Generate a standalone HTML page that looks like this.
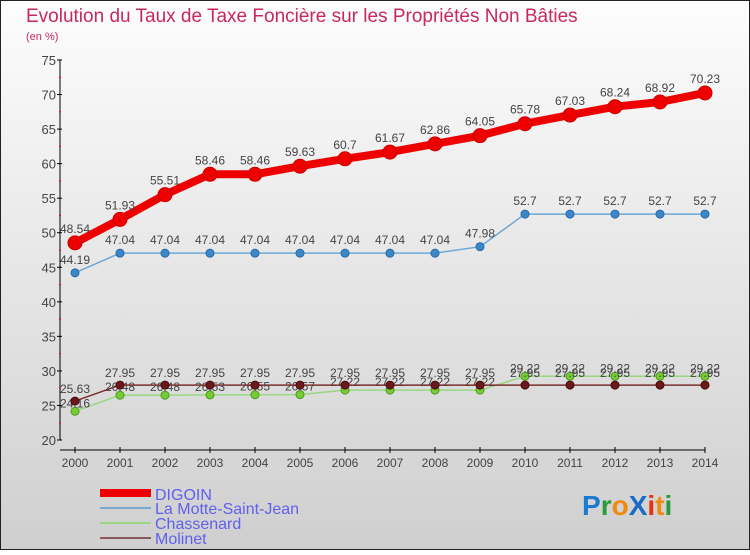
<!DOCTYPE html>
<html><head><meta charset="utf-8"><style>
html,body{margin:0;padding:0}
body{width:750px;height:550px;overflow:hidden;font-family:"Liberation Sans",sans-serif}
</style></head><body>
<svg id="chart" width="750" height="550" xmlns="http://www.w3.org/2000/svg">
<defs><linearGradient id="bg" x1="0" y1="0" x2="0" y2="1"><stop offset="0" stop-color="#fdfdfd"/><stop offset="1" stop-color="#cfcfcf"/></linearGradient></defs>
<rect x="0.5" y="0.5" width="749" height="549" fill="url(#bg)" stroke="#222"/>
<text x="26" y="22" font-size="19" fill="#c8285a">Evolution du Taux de Taxe Foncière sur les Propriétés Non Bâties</text>
<text x="26" y="40" font-size="11" fill="#c8285a">(en %)</text>
<g id="axes"></g><g id="series"></g>
<g font-size="16" fill="#6060ee">
<rect x="100" y="489" width="51" height="8" fill="#e00"/>
<text x="155" y="500">DIGOIN</text>
<rect x="100" y="507" width="51" height="2" fill="#7aaad0"/>
<text x="155" y="514">La Motte-Saint-Jean</text>
<rect x="100" y="522" width="51" height="2" fill="#99d880"/>
<text x="155" y="529">Chassenard</text>
<rect x="100" y="537" width="51" height="2" fill="#8a5a5a"/>
<text x="155" y="544">Molinet</text>
</g>
<g font-size="28" font-weight="bold">
<text x="582" y="515"><tspan fill="#1a7ad0">P</tspan><tspan fill="#2a9a3a">r</tspan><tspan fill="#f08a10">o</tspan><tspan fill="#1a6ac8">X</tspan><tspan fill="#e83010">i</tspan><tspan fill="#f08a10">t</tspan><tspan fill="#2a9a3a">i</tspan></text>
</g>
</svg>
<script>
const years=[2000,2001,2002,2003,2004,2005,2006,2007,2008,2009,2010,2011,2012,2013,2014];
const digoin=[48.54,51.93,55.51,58.46,58.46,59.63,60.7,61.67,62.86,64.05,65.78,67.03,68.24,68.92,70.23];
const laMotte=[44.19,47.04,47.04,47.04,47.04,47.04,47.04,47.04,47.04,47.98,52.7,52.7,52.7,52.7,52.7];
const chassenard=[24.16,26.48,26.48,26.53,26.55,26.57,27.22,27.22,27.22,27.22,29.22,29.22,29.22,29.22,29.22];
const molinet=[25.63,27.95,27.95,27.95,27.95,27.95,27.95,27.95,27.95,27.95,27.95,27.95,27.95,27.95,27.95];
const yTicks=[20,25,30,35,40,45,50,55,60,65,70,75];
const NS="http://www.w3.org/2000/svg";
const x=i=>75+i*45;
const y=v=>440-(v-20)*(380/55);
function mk(p,t,a){const e=document.createElementNS(NS,t);for(const k in a)e.setAttribute(k,a[k]);p.appendChild(e);return e;}
const ax=document.getElementById('axes');
let l=mk(ax,'line',{x1:60,y1:60,x2:60,y2:440,stroke:'#000'});


l=mk(ax,'line',{x1:60,y1:450,x2:705,y2:450,stroke:'#000'});


yTicks.forEach(v=>{
  mk(ax,'line',{x1:57,y1:y(v),x2:62,y2:y(v),stroke:'#000'});
  if(v<75)mk(ax,'line',{x1:59,y1:y(v+2.5),x2:61,y2:y(v+2.5),stroke:'#e00'});
  const t=mk(ax,'text',{x:56,y:y(v)+5,'text-anchor':'end','font-size':13,fill:'#444'});
  t.textContent=v;
  
  
});
years.forEach((yr,i)=>{
  mk(ax,'line',{x1:x(i),y1:447,x2:x(i),y2:453,stroke:'#000'});
  const t=mk(ax,'text',{x:x(i),y:467,'text-anchor':'middle','font-size':12,fill:'#444'});
  t.textContent=yr;
  
  
});
const sg=document.getElementById('series');
function draw(name,data,color,w,r,dot,stroke,lblOff){
  const g=mk(sg,'g',{});
  
  
  const pl=mk(g,'polyline',{points:data.map((v,i)=>x(i)+','+y(v)).join(' '),fill:'none',stroke:color,'stroke-width':w,'stroke-linejoin':'round'});
  
  
  data.forEach((v,i)=>{
    const c=mk(g,'circle',{cx:x(i),cy:y(v),r:r,fill:dot,stroke:stroke,'stroke-width':1});
    
    
    const t=mk(g,'text',{x:x(i),y:y(v)+lblOff,'text-anchor':'middle','font-size':12,fill:'#444'});
    t.textContent=String(v);
    
    
  });
}
draw('chassenard',chassenard,'#99d880',1.5,4,'#77cc33','#4a9a22',-4);
draw('molinet',molinet,'#7a3030',1.5,4,'#6a1a1a','#4a0a0a',-8);
draw('la-motte',laMotte,'#6aa8d8',1.5,4,'#3a88c8','#2a68a8',-9);
draw('digoin',digoin,'#e00',8,7,'#e00','#c00',-10);
</script>
</body></html>
